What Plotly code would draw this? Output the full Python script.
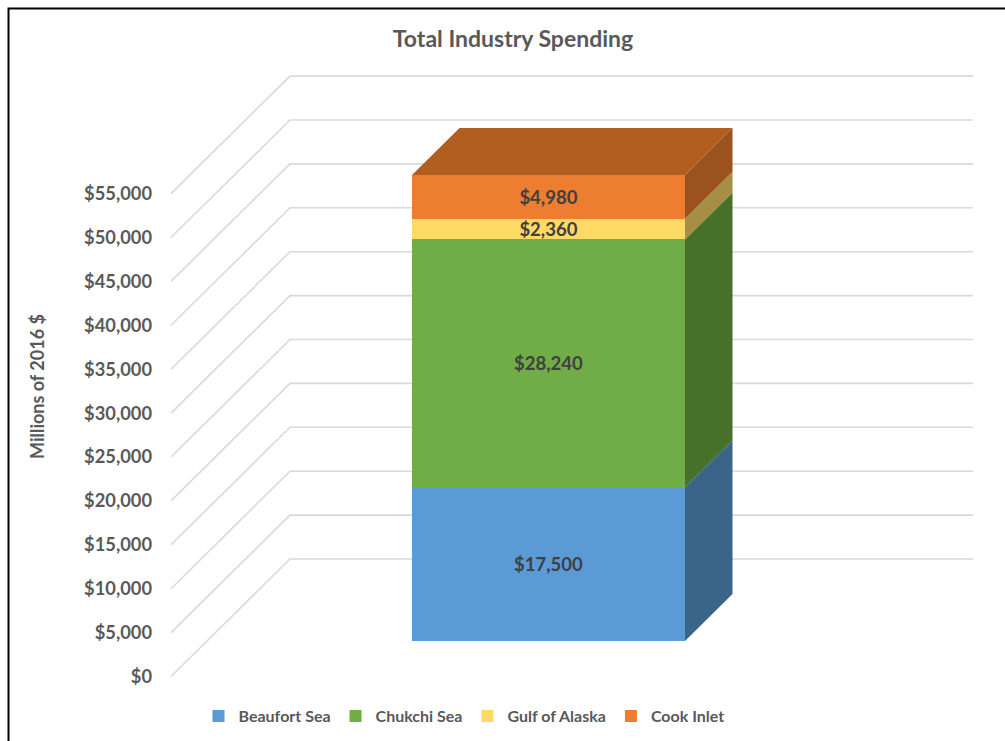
import plotly.graph_objects as go

# ---------------- data ----------------
SERIES = ["Beaufort Sea", "Chukchi Sea", "Gulf of Alaska", "Cook Inlet"]
VALUES = [17500, 28240, 2360, 4980]
FRONT_COLORS = ["#5B9BD5", "#70AD47", "#FFD966", "#ED7D31"]
SIDE_COLORS = ["#3A6488", "#47702B", "#A68F45", "#9C521E"]
TOP_COLOR = "#B35E21"
TICK_VALUES = [0, 5000, 10000, 15000, 20000, 25000, 30000, 35000, 40000, 45000, 50000, 55000]
TICK_LABELS = ["$0", "$5,000", "$10,000", "$15,000", "$20,000", "$25,000", "$30,000",
               "$35,000", "$40,000", "$45,000", "$50,000", "$55,000"]
TITLE = "Total Industry Spending"
Y_TITLE = "Millions of 2016 $"

# ---------------- geometry (pixel-based layout constants) ----------------
W, H = 1005, 741
ML = 158                 # left margin (tick labels live there)
S = 0.00878              # px per million $
XU = 273.0               # px per x unit (bar width = 1 unit)
XC = 548.5               # px of bar centre
FRONT_ZERO_PX = 641      # px row of value 0 on the bar front


def xu(px):
    return (px - XC) / XU


LABEL_DY = -35.5 / S     # label plane offset (value units)
BACK_DY = 82 / S         # back wall offset
BAR_DX = 47.5 / XU       # bar depth in x units
BAR_DY = 47 / S          # bar depth in value units

X_RANGE = [xu(ML), xu(W)]
Y_RANGE = [(FRONT_ZERO_PX - H) / S, FRONT_ZERO_PX / S]

FONT = "Lato"
GREY = "#595959"

fig = go.Figure()

# gridlines: side wall diagonal + back wall horizontal
gx, gy = [], []
for v in TICK_VALUES:
    gx += [xu(171), xu(290), xu(973), None]
    gy += [v + LABEL_DY, v + BACK_DY, v + BACK_DY, None]
fig.add_trace(go.Scatter(x=gx, y=gy, mode="lines", line=dict(color="#D9D9D9", width=1.6),
                         hoverinfo="skip", showlegend=False, xaxis="x", yaxis="y"))

# bar front faces
bases = []
acc = 0
for v in VALUES:
    bases.append(acc)
    acc += v
total = acc

for name, v, b, c in zip(SERIES, VALUES, bases, FRONT_COLORS):
    fig.add_trace(go.Bar(
        x=[0], y=[v], base=[b], width=[1], name=name,
        marker=dict(color=c, line=dict(width=0)),
        text=[f"${v:,}"], textposition="inside", insidetextanchor="middle",
        textangle=0, textfont=dict(family=FONT, size=18.5, color="#404040", weight="bold"),
        xaxis="x2", yaxis="y2", hoverinfo="skip",
    ))

# side faces
for v, b, c in zip(VALUES, bases, SIDE_COLORS):
    t = b + v
    fig.add_trace(go.Scatter(
        x=[0.5, 0.5 + BAR_DX, 0.5 + BAR_DX, 0.5, 0.5],
        y=[b, b + BAR_DY, t + BAR_DY, t, b],
        mode="lines", fill="toself", fillcolor=c, line=dict(width=0, color=c),
        hoverinfo="skip", showlegend=False, xaxis="x2", yaxis="y2"))

# top face
fig.add_trace(go.Scatter(
    x=[-0.5, 0.5, 0.5 + BAR_DX, -0.5 + BAR_DX, -0.5],
    y=[total, total, total + BAR_DY, total + BAR_DY, total],
    mode="lines", fill="toself", fillcolor=TOP_COLOR, line=dict(width=0, color=TOP_COLOR),
    hoverinfo="skip", showlegend=False, xaxis="x2", yaxis="y2"))

axis_common = dict(showgrid=False, zeroline=False, showline=False, fixedrange=True)

fig.update_layout(
    width=W, height=H,
    margin=dict(l=ML, r=0, t=0, b=0, autoexpand=False),
    paper_bgcolor="white", plot_bgcolor="white",
    barmode="stack",
    bargap=0,
    showlegend=True,
    title=dict(text=TITLE, x=513 / W, xref="container", xanchor="center",
               y=1 - 39 / H, yref="container", yanchor="middle",
               font=dict(family=FONT, size=23, color=GREY, weight="bold")),
    xaxis=dict(range=X_RANGE, visible=False, **axis_common),
    yaxis=dict(range=Y_RANGE, tickmode="array",
               tickvals=[v + LABEL_DY for v in TICK_VALUES], ticktext=TICK_LABELS,
               tickfont=dict(family=FONT, size=18.3, color=GREY, weight="bold"),
               ticks="", ticklabelstandoff=5, **axis_common),
    xaxis2=dict(range=X_RANGE, overlaying="x", visible=False, **axis_common),
    yaxis2=dict(range=Y_RANGE, overlaying="y", visible=False, **axis_common),
    legend=dict(orientation="h", traceorder="normal",
                xref="container", x=464 / W, xanchor="center",
                yref="container", y=1 - 716 / H, yanchor="middle",
                font=dict(family=FONT, size=16, color=GREY, weight="bold"),
                bgcolor="rgba(0,0,0,0)"),
    uniformtext=dict(minsize=18.5, mode="show"),
    annotations=[dict(text=Y_TITLE, textangle=-90, showarrow=False,
                      xref="paper", yref="paper",
                      x=(37 - ML) / (W - ML), y=1 - 387 / H,
                      xanchor="center", yanchor="middle",
                      font=dict(family=FONT, size=18, color=GREY, weight="bold"))],
    shapes=[dict(type="rect", xref="paper", yref="paper",
                 x0=(8.5 - ML) / (W - ML), x1=(1012 - ML) / (W - ML),
                 y0=1 - 8.5 / H, y1=1 - 748 / H,
                 line=dict(color="black", width=2), fillcolor="rgba(0,0,0,0)")],
)

fig.write_html("out.html")
